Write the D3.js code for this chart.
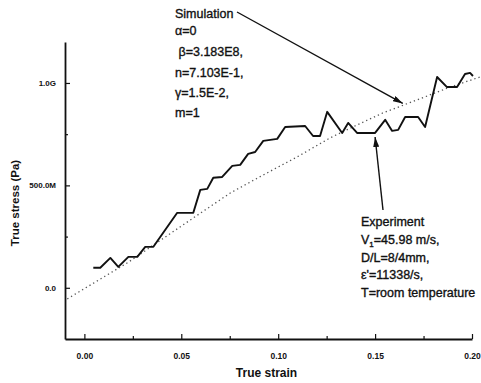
<!DOCTYPE html>
<html>
<head>
<meta charset="utf-8">
<style>
  * { margin: 0; padding: 0; }
  body { background: #fff; width: 481px; height: 383px; overflow: hidden; }
  svg text { font-family: 'Liberation Sans', Arial, sans-serif; fill: #111; }
  .tick-label { font-weight: bold; }
  .note { font-size: 12.5px; stroke: #111; stroke-width: 0.35px; }
</style>
</head>
<body>
<div id="chart"></div>
<script src="https://cdn.jsdelivr.net/npm/d3@7"></script>
<script>
// experiment (true strain, true stress in GPa)
let expStrain = [0.0046, 0.0082, 0.0134, 0.0175, 0.0227, 0.0273, 0.0314, 0.0356, 0.0479, 0.0562,
  0.0598, 0.0634, 0.0665, 0.0711, 0.0763, 0.0804, 0.0845, 0.0881, 0.0923, 0.0995,
  0.1036, 0.1139, 0.1180, 0.1216, 0.1253, 0.1330, 0.1361, 0.1407, 0.1500, 0.1552,
  0.1588, 0.1619, 0.1655, 0.1722, 0.1758, 0.1820, 0.1871, 0.1923, 0.1964, 0.1990, 0.2005];
let expStress = [0.098, 0.098, 0.146, 0.102, 0.151, 0.151, 0.200, 0.200, 0.366, 0.366,
  0.478, 0.483, 0.537, 0.541, 0.595, 0.600, 0.654, 0.663, 0.717, 0.727,
  0.785, 0.790, 0.741, 0.741, 0.859, 0.756, 0.805, 0.756, 0.756, 0.820,
  0.766, 0.771, 0.834, 0.834, 0.785, 1.029, 0.980, 0.980, 1.044, 1.049, 1.034];

// simulation
let simStrain = [-0.0088, 0.0222, 0.0562, 0.0753, 0.0923, 0.1098, 0.1268, 0.1407, 0.1541, 0.1716, 0.1887, 0.2041];
let simStress = [-0.054, 0.122, 0.341, 0.463, 0.551, 0.639, 0.732, 0.795, 0.854, 0.917, 0.980, 1.029];

let xTicks = [0, 0.05, 0.10, 0.15, 0.20];
let xTickLabels = ['0.00', '0.05', '0.10', '0.15', '0.20'];
let xMinor = [0.025, 0.075, 0.125, 0.175];
let yTicks = [0, 0.5, 1.0];
let yTickLabels = ['0.0', '500.0M', '1.0G'];
let yMinor = [0.25, 0.75];

let simNotes = ['Simulation', '\u03b1=0', ' \u03b2=3.183E8,', 'n=7.103E-1,', '\u03b3=1.5E-2,', 'm=1'];
let expNotes = ['Experiment', 'V|1|=45.98 m/s,', 'D/L=8/4mm,', '\u03b5\'=11338/s,', 'T=room temperature'];

let W = 481, H = 383;
let margin = {top: 42, right: 9, bottom: 44, left: 65};
let width = W - margin.left - margin.right,
    height = H - margin.top - margin.bottom;

let svg = d3.select('#chart').append('svg')
  .attr('width', W).attr('height', H);

let x = d3.scaleLinear().domain([-0.01, 0.20]).range([margin.left, margin.left + width]);
let y = d3.scaleLinear().domain([-0.25, 1.2]).range([margin.top + height, margin.top]);

// minor ticks first
svg.append('g')
  .attr('transform', 'translate(0,' + (margin.top + height) + ')')
  .call(d3.axisBottom(x).tickValues(xMinor).tickSize(-3).tickFormat(''))
  .call(g => g.select('.domain').remove());
svg.append('g')
  .attr('transform', 'translate(' + margin.left + ',0)')
  .call(d3.axisLeft(y).tickValues(yMinor).tickSize(-3).tickFormat(''))
  .call(g => g.select('.domain').remove());

let xAxis = svg.append('g')
  .attr('transform', 'translate(0,' + (margin.top + height) + ')')
  .call(d3.axisBottom(x).tickValues(xTicks).tickSizeInner(-5).tickSizeOuter(0)
    .tickPadding(14).tickFormat((d, i) => xTickLabels[i]));
xAxis.selectAll('text').attr('class', 'tick-label').style('font-size', '8.5px');

let yAxis = svg.append('g')
  .attr('transform', 'translate(' + margin.left + ',0)')
  .call(d3.axisLeft(y).tickValues(yTicks).tickSizeInner(-5).tickSizeOuter(0)
    .tickPadding(9).tickFormat((d, i) => yTickLabels[i]));
yAxis.selectAll('text').attr('class', 'tick-label').style('font-size', '8px');

svg.selectAll('.domain').attr('stroke', '#111').attr('stroke-width', 1.8);
svg.selectAll('.tick line').attr('stroke', '#111').attr('stroke-width', 1.2);

// axis titles
svg.append('text')
  .attr('x', margin.left + width / 2 - 2).attr('y', H - 6)
  .attr('text-anchor', 'middle')
  .style('font-size', '12px').style('font-weight', 'bold')
  .text('True strain');
svg.append('text')
  .attr('transform', 'translate(19,' + 203 + ') rotate(-90)')
  .attr('text-anchor', 'middle')
  .style('font-size', '11.5px').style('font-weight', 'bold')
  .text('True stress (Pa)');

// curves
let line = d3.line().x(d => x(d[0])).y(d => y(d[1]));

svg.append('path')
  .datum(simStrain.map((s, i) => [s, simStress[i]]))
  .attr('d', line)
  .attr('fill', 'none')
  .attr('stroke', '#555')
  .attr('stroke-width', 1.3)
  .attr('stroke-dasharray', '1.3,3');

svg.append('path')
  .datum(expStrain.map((s, i) => [s, expStress[i]]))
  .attr('d', line)
  .attr('fill', 'none')
  .attr('stroke', '#111')
  .attr('stroke-width', 1.9)
  .attr('stroke-linejoin', 'round');

// arrows
svg.append('defs').append('marker')
  .attr('id', 'head')
  .attr('viewBox', '0 0 10 6')
  .attr('refX', 10).attr('refY', 3)
  .attr('markerWidth', 10).attr('markerHeight', 6)
  .attr('markerUnits', 'userSpaceOnUse')
  .attr('orient', 'auto')
  .append('path').attr('d', 'M0,0 L10,3 L0,6 Z').attr('fill', '#111');

let simTip = [0.1643, 0.900], expTip = [0.1500, 0.741];

svg.append('line')
  .attr('x1', 237).attr('y1', 12)
  .attr('x2', x(simTip[0])).attr('y2', y(simTip[1]))
  .attr('stroke', '#111').attr('stroke-width', 1.4)
  .attr('marker-end', 'url(#head)');
svg.append('line')
  .attr('x1', 383).attr('y1', 210)
  .attr('x2', x(expTip[0])).attr('y2', y(expTip[1]) + 1)
  .attr('stroke', '#111').attr('stroke-width', 1.4)
  .attr('marker-end', 'url(#head)');

// notes
let simY = [18, 35, 56, 77, 97, 117];
svg.append('g').selectAll('text')
  .data(simNotes).join('text')
  .attr('class', 'note')
  .attr('x', 175)
  .attr('y', (d, i) => simY[i])
  .attr('xml:space', 'preserve')
  .style('white-space', 'pre')
  .text(d => d);

let expY = [226, 244, 262, 279, 297];
let expText = svg.append('g').selectAll('text')
  .data(expNotes).join('text')
  .attr('class', 'note')
  .attr('x', 361)
  .attr('y', (d, i) => expY[i]);
expText.each(function(d) {
  let parts = d.split('|');
  let t = d3.select(this);
  if (parts.length === 1) { t.text(d); return; }
  t.append('tspan').text(parts[0]);
  t.append('tspan').attr('dy', 3).style('font-size', '8px').text(parts[1]);
  t.append('tspan').attr('dy', -3).text(parts[2]);
});
</script>
</body>
</html>
